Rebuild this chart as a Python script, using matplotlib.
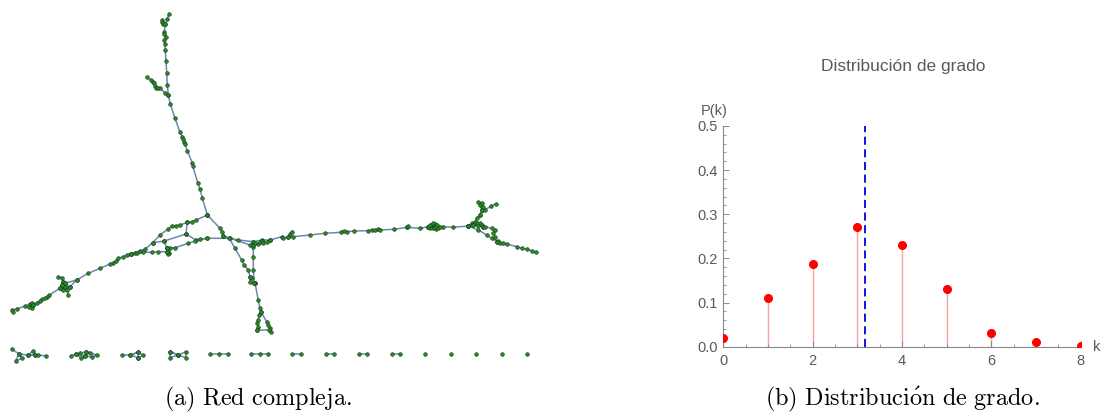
from matplotlib import pyplot as plt
from matplotlib.ticker import MultipleLocator
import numpy as np

plt.rcParams['mathtext.fontset'] = 'cm'

# ---- grado: distribucion ----
k_vals = [0, 1, 2, 3, 4, 5, 6, 7, 8]
p_vals = [0.019, 0.111, 0.187, 0.271, 0.231, 0.131, 0.031, 0.011, 0.001]
k_medio = 3.17

# ---- red compleja: cadenas de nodos (pixeles de la imagen) ----
top_main = [(168.7, 14.3), (167.3, 19.3), (165.3, 24.3), (164.3, 32.3), (164.3, 34.3), (165.7, 36.7),
            (164.3, 40), (164.7, 44.3), (165.3, 50), (166, 61), (166.7, 72.7), (167.3, 85), (168.3, 95),
            (170.3, 104), (175, 118.3), (180, 132.3), (182.3, 136.7), (183.3, 139.3), (184, 141.7),
            (185, 144), (187.3, 151), (192.3, 162.7), (192.7, 166), (197.7, 182.7), (200, 189.3),
            (202.3, 197.7), (207.3, 215)]
top_tip = [(162.3, 20), (162.3, 22.3), (163.3, 24), (165.3, 24.3)]
top_side = [(146.7, 76.7), (150.7, 80), (152.7, 81.7), (154.3, 83.3), (155.3, 86), (155.7, 88.3),
            (157.7, 87.7), (160, 88.3), (165, 92.7), (168.3, 95)]
upper_loop = [(207.3, 215), (196, 220), (191.7, 221.7), (187.3, 222.3), (180, 225), (175.7, 225.7),
              (171.7, 225.7), (167.7, 229.3), (160, 235), (152.7, 242.7), (145, 249.3), (140, 250.7),
              (135, 252.7), (131, 254)]
mid_loop = [(187.3, 222.3), (186, 234), (164.3, 241), (152.7, 242.7)]
main_line = [(186, 234), (196, 240), (207.3, 238.3), (230, 238.3), (238.3, 240), (253.3, 241.7),
             (261.7, 240), (270, 240), (281.7, 236.7), (283.3, 238.3), (288.3, 236.7), (293.3, 236.7),
             (310, 235), (325, 233.3), (340.7, 232.3), (344, 231), (347.3, 231.7), (354, 231),
             (368.3, 230.7), (371.7, 230), (375, 230), (378.3, 229.3), (380, 230), (394, 229.3),
             (407.3, 227.3), (420, 228.3), (428.3, 226.7), (433.3, 226.7), (443.3, 226.7),
             (453.3, 227.3), (468.3, 226)]
side_a = [(288.3, 236.7), (290, 234), (291.7, 231.7)]
side_b = [(407.3, 227.3), (408.3, 226)]
lower_loop = [(164.3, 241), (166.7, 248.3), (175, 247.7), (188.3, 243.3), (195, 241), (200, 239.3),
              (207.3, 238.3)]
cluster_a = [(166.7, 248.3), (170, 248.3), (169.3, 252.7), (168.3, 254), (167.3, 251.7), (166.7, 248.3)]
lower_left = [(167.3, 251.7), (158.3, 251.7), (151.7, 252.3), (143.3, 252.3), (136.7, 252.7), (131, 254)]
left_arm = [(131, 254), (126.7, 255), (123.3, 256.7), (118.3, 258.3), (116, 261), (113.3, 262.7),
            (110, 264), (100, 268.3), (88.3, 273.3), (76.7, 280), (70, 286.7), (65, 286.7),
            (63.3, 290), (60, 288.3), (49.3, 295), (46.7, 297.3), (45, 298.3), (41.7, 299.3),
            (40, 300.7), (36.7, 302.7), (33.3, 305), (30, 304), (25, 306), (16.7, 309), (11.7, 310),
            (12.7, 311.7)]
cluster_b1 = [(58.3, 276.7), (61.7, 278.3), (63.3, 281.7), (65, 283.3), (70, 286.7)]
cluster_b2 = [(63.3, 281.7), (61.7, 285), (65, 286.7), (66.7, 290), (68.3, 295)]
cluster_b3 = [(76.7, 280), (65, 283.3), (61.7, 285), (60, 288.3)]
left_tip = [(31.7, 302.7), (29.3, 306.7), (31.7, 308.3), (33.3, 305)]
down_branch = [(207.3, 215), (220, 228.3), (221.7, 231.7), (223.3, 236), (229.3, 238.3), (235, 248.3),
               (241.7, 260), (244.3, 265), (248.3, 270), (250, 276.7), (251.7, 278.3), (255, 283.3),
               (258.3, 300), (260, 308.3), (260.7, 311.7), (259.3, 315), (258.3, 320), (256.7, 323.3),
               (258.3, 326.7), (257.3, 330)]
down_vert = [(253.3, 241.7), (253.3, 246.7), (253.3, 256.7), (253.3, 270), (254, 283.3), (255, 283.3)]
down_loop = [(260.7, 311.7), (266.7, 321.7), (268.3, 325), (270, 328.3), (270.7, 331.7), (269.3, 330),
             (257.3, 330)]
down_extra = [(250, 276.7), (250, 281.7), (254, 283.3)]
center_cl = [(223.3, 236), (250, 245), (253.3, 245), (255, 243.3), (258.3, 244.3), (260, 242.3),
             (261.7, 241), (263.3, 243.3), (266.7, 241.7), (270, 240)]
right_cl = [(428.3, 226.7), (431.7, 225), (433.3, 226.7), (435, 224.3), (436.7, 226), (438.3, 227.3),
            (436, 229.3), (433.3, 228.3), (430, 228.3), (428.3, 226.7), (430, 225), (433.3, 223.3),
            (435, 226.7), (436.7, 225), (438.3, 228.3), (440, 226.7)]
hub2_up = [(468.3, 226), (471.7, 223.3), (475, 221.7), (476.7, 218.3), (480, 215), (481.7, 210),
           (480, 205), (478.3, 201.7), (481.7, 203.3), (483.3, 206.7), (481.7, 210)]
hub2_branch = [(480, 215), (485, 210), (491, 206), (495.7, 204)]
hub2_cl = [(468.3, 226), (473.3, 225), (476.7, 223.3), (480, 223.3), (481.7, 225), (483.3, 226.7),
           (478.3, 226), (473.3, 225)]
hub2_down = [(468.3, 226), (478.3, 230), (486.7, 235), (491.7, 238.3), (496.7, 241.7), (498.3, 240.7),
             (500, 242.7), (503.3, 243.3), (506.7, 244), (516.7, 246.7), (521.7, 248.3), (526.7, 249.3),
             (531.7, 250.7), (536, 252)]
hub2_right = [(483.3, 226.7), (485, 226.7), (491.7, 228.3), (495, 230), (493.3, 233.3), (495, 236.7),
              (496.7, 241.7)]

# componentes pequenas (fila inferior)
comp1 = [(11.7, 349), (19, 354), (15.7, 360.7), (22.3, 358.3), (19, 354), (28.3, 355), (33.3, 350.7),
         (35, 354.7), (28.3, 355), (35, 354.7), (38.3, 355), (46, 356)]
comp2 = [(71, 356), (76, 354), (80, 353.3), (86, 351.7), (90, 352.7), (96.7, 355), (91.7, 357.3),
         (85, 355.7), (81.3, 358.3), (76, 354), (85, 355.7), (86, 351.7)]
comp3 = [(121.7, 355), (130, 355), (138.3, 352.3), (143.3, 355), (138.3, 357.7), (130, 355),
         (138.3, 352.3), (138.3, 357.7)]
comp4 = [(170, 351.7), (170, 357.7), (178.3, 355), (170, 351.7), (178.3, 355), (185.7, 351.7),
         (185.7, 357.7), (178.3, 355)]
comp5 = [(210, 354), (219, 354), (228, 354)]
comp6 = [(251, 354), (259.5, 354), (268, 354)]
comp7 = [(292, 354), (301, 354)]
comp8 = [(326, 354), (334, 354)]
comp9 = [(359, 354), (367, 354)]
comp10 = [(392, 354), (400, 354)]
aislados = [(425, 354), (451, 354), (476, 354), (502, 354), (527, 354)]

cadenas = [top_main, top_tip, top_side, upper_loop, mid_loop, main_line, side_a, side_b, lower_loop,
           cluster_a, lower_left, left_arm, cluster_b1, cluster_b2, cluster_b3, left_tip, down_branch,
           down_vert, down_loop, down_extra, center_cl, right_cl, hub2_up, hub2_branch, hub2_cl,
           hub2_down, hub2_right, comp1, comp2, comp3, comp4, comp5, comp6, comp7, comp8, comp9, comp10]

fig = plt.figure(figsize=(11.01, 4.18), dpi=100)

# ---- (a) red ----
ax1 = fig.add_axes([0, 0, 550 / 1101, 1])
ax1.set_xlim(0, 550)
ax1.set_ylim(418, 0)
ax1.axis('off')
for c in cadenas:
    xy = np.array(c)
    ax1.plot(xy[:, 0], xy[:, 1], '-', color='#6d86b6', lw=1.1, zorder=1)
todos = np.array([p for c in cadenas for p in c] + aislados)
ax1.scatter(todos[:, 0], todos[:, 1], s=7, c='#2a8a2a', edgecolors='#123a12', linewidths=0.4, zorder=2)

# ---- (b) distribucion de grado ----
gris = '#5a5a5a'
ax2 = fig.add_axes([723.3 / 1101, 1 - 346.7 / 418, 357.4 / 1101, 220.7 / 418])
ax2.vlines(k_vals, 0, p_vals, color='#f4a4a4', lw=1.0, zorder=1)
ax2.plot(k_vals, p_vals, 'o', color='#ff0000', ms=5.5, zorder=3)
ax2.plot([k_medio, k_medio], [0, 0.5], '--', color='#0000e0', lw=1.3, dashes=(4.5, 2.5), zorder=2)
ax2.set_xlim(0, 8)
ax2.set_ylim(0, 0.5)
ax2.spines['top'].set_visible(False)
ax2.spines['right'].set_visible(False)
for s in ['left', 'bottom']:
    ax2.spines[s].set_color('#888888')
    ax2.spines[s].set_linewidth(0.8)
ax2.xaxis.set_major_locator(MultipleLocator(2))
ax2.xaxis.set_minor_locator(MultipleLocator(0.5))
ax2.yaxis.set_major_locator(MultipleLocator(0.1))
ax2.yaxis.set_minor_locator(MultipleLocator(0.02))
ax2.yaxis.set_major_formatter(plt.FuncFormatter(lambda v, p: '%.1f' % v))
ax2.tick_params(which='both', direction='in', color='#888888', labelcolor=gris,
                labelsize=10.5)
ax2.tick_params(axis='x', pad=5)
ax2.tick_params(axis='y', pad=4)
ax2.tick_params(which='major', length=4, width=0.7)
ax2.tick_params(which='minor', length=2, width=0.6)
for lab in ax2.get_xticklabels() + ax2.get_yticklabels():
    lab.set_family('Liberation Sans')
ax2.text(-0.025, 1.035, 'P(k)', transform=ax2.transAxes, ha='center', va='bottom',
         fontsize=10.5, color=gris, family='Liberation Sans')
ax2.text(1.045, 0.0, 'k', transform=ax2.transAxes, ha='center', va='center',
         fontsize=10.5, color=gris, family='Liberation Sans')
fig.text(903 / 1101, 1 - 67 / 418, 'Distribución de grado', ha='center', va='center',
         fontsize=12.5, color=gris, family='Liberation Sans')

# ---- pies de figura ----
fig.text(258 / 1101, 1 - 399 / 418, r'$\mathrm{(a)\ Red\ compleja.}$', ha='center', va='center',
         fontsize=17.5)
fig.text(902 / 1101, 1 - 399 / 418, r'$\mathrm{(b)\ Distribuci\acute{o}n\ de\ grado.}$',
         ha='center', va='center', fontsize=17.5)

fig.savefig('out.png', dpi=100)
